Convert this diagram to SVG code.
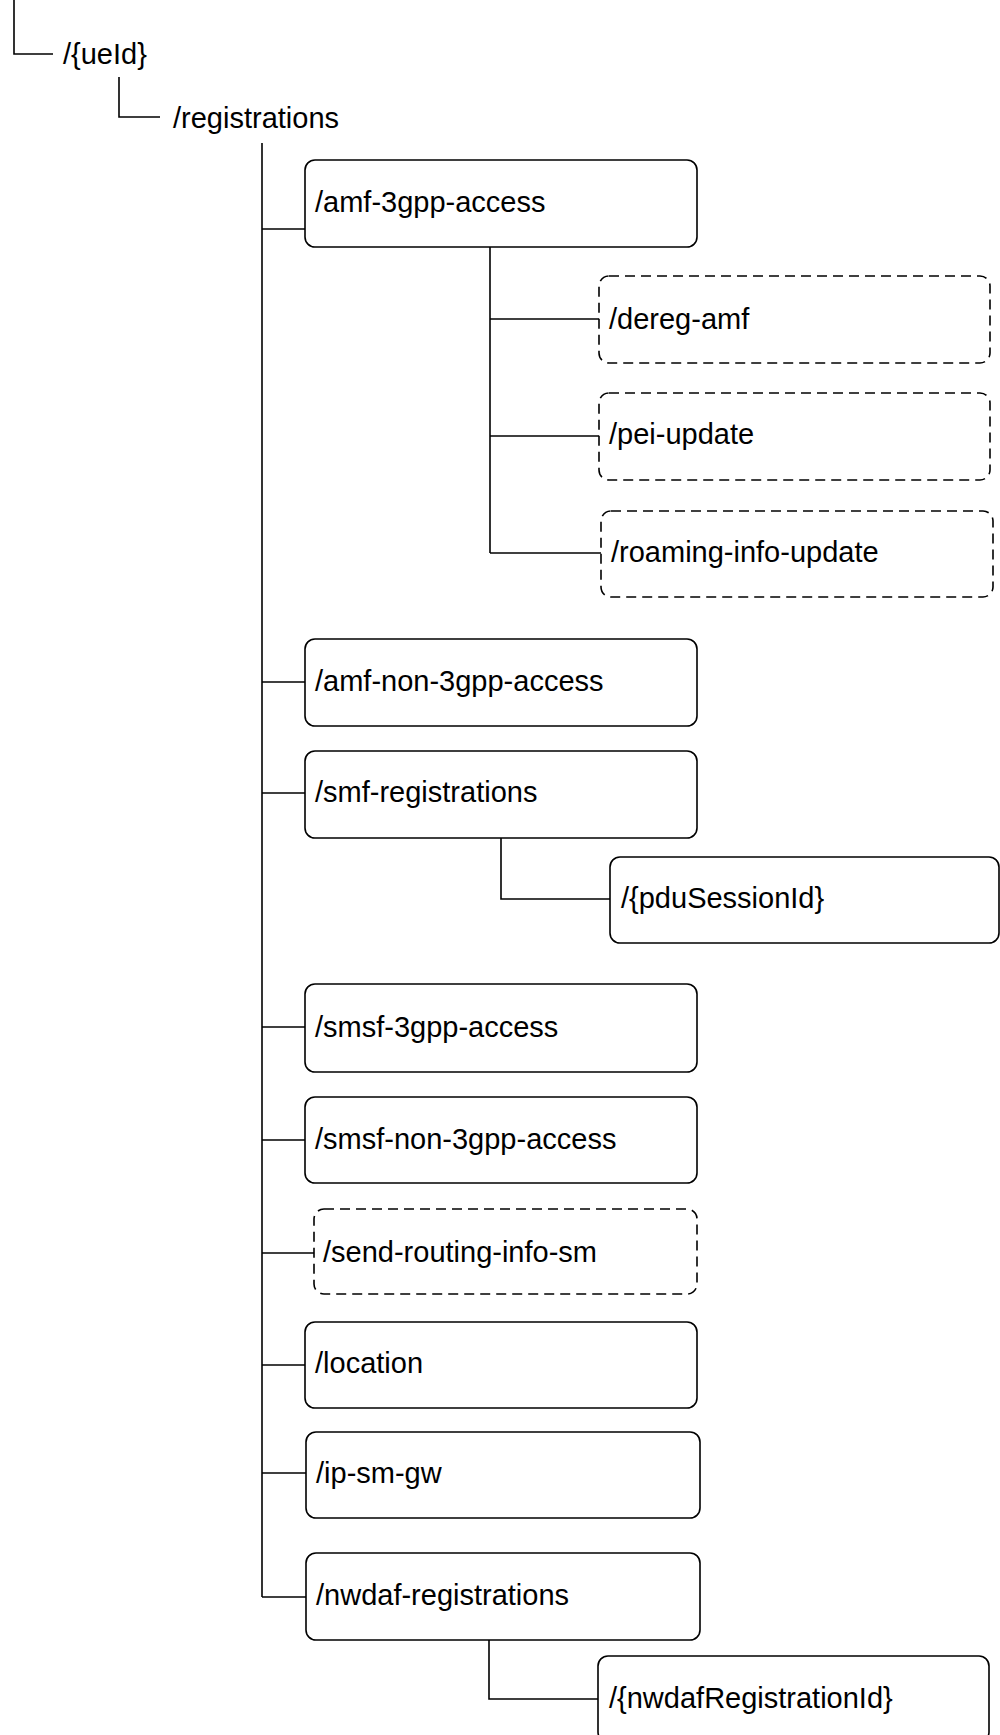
<svg xmlns="http://www.w3.org/2000/svg" width="1000" height="1735" viewBox="0 0 1000 1735">
<style>
.box{fill:#fff;stroke:#000;stroke-width:1.6}
.dash{fill:#fff;stroke:#000;stroke-width:1.6;stroke-dasharray:10 6}
.ln{fill:none;stroke:#000;stroke-width:1.6}
text{font-family:"Liberation Sans",Arial,sans-serif;font-size:29px;fill:#000}
</style>
<rect width="1000" height="1735" fill="#fff"/>
<g id="connectors">
<path class="ln" d="M14,0 V54 H53"/>
<path class="ln" d="M119,77 V117 H160"/>
<path class="ln" d="M262,143 V1597"/>
<path class="ln" d="M262,229 H305"/>
<path class="ln" d="M490,247 V553"/>
<path class="ln" d="M490,319 H599"/>
<path class="ln" d="M490,436 H599"/>
<path class="ln" d="M490,553 H601"/>
<path class="ln" d="M262,682 H305"/>
<path class="ln" d="M262,793 H305"/>
<path class="ln" d="M501,838 V899 H610"/>
<path class="ln" d="M262,1027 H305"/>
<path class="ln" d="M262,1140 H305"/>
<path class="ln" d="M262,1253 H314"/>
<path class="ln" d="M262,1365 H305"/>
<path class="ln" d="M262,1473 H306"/>
<path class="ln" d="M262,1597 H306"/>
<path class="ln" d="M489,1640 V1699 H598"/>
</g>
<g id="ueId"><text x="63" y="64">/{ueId}</text></g>
<g id="registrations"><text x="173" y="128">/registrations</text></g>
<g id="amf-3gpp-access"><rect class="box" x="305" y="160" width="392" height="87" rx="10"/><text x="315" y="212">/amf-3gpp-access</text></g>
<g id="dereg-amf"><rect class="dash" x="599" y="276" width="391" height="87" rx="10"/><text x="609" y="329">/dereg-amf</text></g>
<g id="pei-update"><rect class="dash" x="599" y="393" width="391" height="87" rx="10"/><text x="609" y="444">/pei-update</text></g>
<g id="roaming-info-update"><rect class="dash" x="601" y="511" width="392" height="86" rx="10"/><text x="611" y="562">/roaming-info-update</text></g>
<g id="amf-non-3gpp-access"><rect class="box" x="305" y="639" width="392" height="87" rx="10"/><text x="315" y="691">/amf-non-3gpp-access</text></g>
<g id="smf-registrations"><rect class="box" x="305" y="751" width="392" height="87" rx="10"/><text x="315" y="802">/smf-registrations</text></g>
<g id="pduSessionId"><rect class="box" x="610" y="857" width="389" height="86" rx="10"/><text x="621" y="908">/{pduSessionId}</text></g>
<g id="smsf-3gpp-access"><rect class="box" x="305" y="984" width="392" height="88" rx="10"/><text x="315" y="1037">/smsf-3gpp-access</text></g>
<g id="smsf-non-3gpp-access"><rect class="box" x="305" y="1097" width="392" height="86" rx="10"/><text x="315" y="1149">/smsf-non-3gpp-access</text></g>
<g id="send-routing-info-sm"><rect class="dash" x="314" y="1209" width="383" height="85" rx="10"/><text x="323" y="1262">/send-routing-info-sm</text></g>
<g id="location"><rect class="box" x="305" y="1322" width="392" height="86" rx="10"/><text x="315" y="1373">/location</text></g>
<g id="ip-sm-gw"><rect class="box" x="306" y="1432" width="394" height="86" rx="10"/><text x="316" y="1483">/ip-sm-gw</text></g>
<g id="nwdaf-registrations"><rect class="box" x="306" y="1553" width="394" height="87" rx="10"/><text x="316" y="1605">/nwdaf-registrations</text></g>
<g id="nwdafRegistrationId"><rect class="box" x="598" y="1656" width="391" height="86" rx="10"/><text x="609" y="1708">/{nwdafRegistrationId}</text></g>
</svg>
